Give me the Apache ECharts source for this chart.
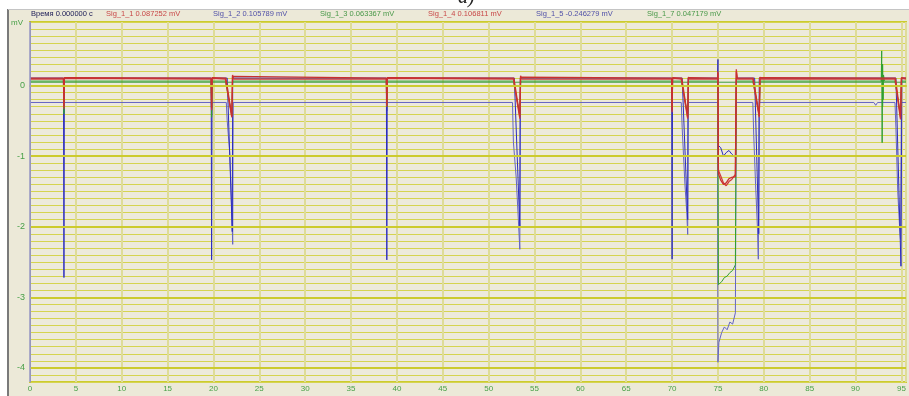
<!DOCTYPE html>
<html>
<head>
<meta charset="utf-8">
<script src="https://cdn.jsdelivr.net/npm/echarts@6/dist/echarts.min.js"></script>
<style>
  html, body { margin: 0; padding: 0; background: #fff; }
  #chart { width: 909px; height: 396px; }
</style>
</head>
<body>
<div id="chart"></div>
<script>
// header readouts at cursor (t = 0)
const headerLabels = [
  { text: 'Время 0.000000 с', x: 31, color: '#20205a' },
  { text: 'Sig_1_1 0.087252 mV', x: 106, color: '#c84848' },
  { text: 'Sig_1_2 0.105789 mV', x: 213, color: '#5050a8' },
  { text: 'Sig_1_3 0.063367 mV', x: 320, color: '#489848' },
  { text: 'Sig_1_4 0.106811 mV', x: 428, color: '#c84848' },
  { text: 'Sig_1_5 -0.246279 mV', x: 536, color: '#5050a8' },
  { text: 'Sig_1_7 0.047179 mV', x: 647, color: '#489848' }
];

const yIntegerLines = [0, -1, -2, -3, -4];

// [time, mV]
const sig11 = [
  [0, 0.09], [3.65, 0.09], [3.7, -0.33], [3.75, 0.1], [19.75, 0.09], [19.8, -0.35], [19.85, 0.1],
  [21.3, 0.09], [22.0, -0.45], [22.08, 0.15], [22.2, 0.09], [38.85, 0.09], [38.9, -0.3], [38.95, 0.1],
  [52.7, 0.09], [53.4, -0.47], [53.48, 0.14], [53.6, 0.09], [69.95, 0.09], [70.0, -0.38], [70.05, 0.1],
  [71.0, 0.09], [71.7, -0.47], [71.78, 0.12], [71.9, 0.09], [74.95, 0.09], [75.0, 0.2], [75.05, -1.2],
  [75.3, -1.28], [75.6, -1.38], [75.9, -1.42], [76.2, -1.36], [76.5, -1.33], [76.9, -1.26], [77.0, 0.23],
  [77.1, 0.09], [78.8, 0.09], [79.5, -0.45], [79.58, 0.12], [79.7, 0.09], [94.3, 0.09], [94.9, -0.48],
  [95.0, 0.1], [95.5, 0.09]
];

const sig14 = [
  [0, 0.105], [3.65, 0.105], [3.7, -0.3], [3.75, 0.11], [19.75, 0.105], [19.8, -0.32], [19.85, 0.11],
  [21.35, 0.105], [22.0, -0.43], [22.08, 0.13], [22.2, 0.105], [38.85, 0.105], [38.9, -0.28], [38.95, 0.11],
  [52.75, 0.105], [53.4, -0.44], [53.48, 0.12], [53.6, 0.105], [69.95, 0.105], [70.0, -0.35], [70.05, 0.11],
  [71.05, 0.105], [71.7, -0.45], [71.78, 0.11], [71.9, 0.105], [74.95, 0.105], [75.0, 0.18], [75.05, -1.25],
  [75.3, -1.34], [75.6, -1.4], [75.9, -1.38], [76.2, -1.32], [76.5, -1.3], [76.9, -1.29], [77.0, 0.2],
  [77.1, 0.105], [78.85, 0.105], [79.5, -0.43], [79.58, 0.11], [79.7, 0.105], [94.35, 0.105], [94.9, -0.45],
  [95.0, 0.11], [95.5, 0.105]
];

const sig12 = [
  [0, 0.105], [3.65, 0.105], [3.7, -2.72], [3.75, 0.105], [19.75, 0.105], [19.8, -2.47], [19.85, 0.105],
  [21.5, 0.105], [22.05, -2.07], [22.1, 0.105], [38.85, 0.105], [38.9, -2.47], [38.95, 0.105],
  [52.8, 0.105], [53.4, -2.0], [53.45, 0.105], [69.95, 0.105], [70.0, -2.46], [70.05, 0.105],
  [71.1, 0.105], [71.7, -1.9], [71.75, 0.105], [74.95, 0.105], [75.0, 0.37], [75.05, -0.85],
  [75.3, -0.88], [75.6, -1.0], [75.9, -0.95], [76.2, -0.92], [76.5, -0.97], [76.9, -1.02], [77.0, 0.105],
  [79.0, 0.105], [79.45, -2.1], [79.5, 0.105], [94.4, 0.105], [94.95, -2.56], [95.05, 0.105], [95.5, 0.105]
];

const sig15 = [
  [0, -0.24], [3.65, -0.24], [3.7, -0.38], [3.75, -0.24], [19.75, -0.24], [19.8, -0.42],
  [19.85, -0.24], [21.4, -0.24], [21.5, -0.5], [21.8, -1.0], [22.0, -1.8], [22.1, -2.25],
  [22.15, -0.24], [38.85, -0.24], [38.9, -0.36], [38.95, -0.24], [52.6, -0.24], [52.7, -0.8], [53.0, -1.3],
  [53.2, -1.8], [53.4, -2.32], [53.45, -0.24], [69.95, -0.24], [70.0, -0.36], [70.05, -0.24], [71.0, -0.24],
  [71.1, -0.6], [71.4, -1.4], [71.6, -1.8], [71.7, -2.11], [71.75, -0.24], [74.95, -0.24], [75.0, -3.92],
  [75.1, -3.64], [75.4, -3.5], [75.7, -3.42], [76.0, -3.46], [76.3, -3.35], [76.6, -3.38], [76.9, -3.22],
  [77.0, -0.24], [78.8, -0.24], [78.9, -0.7], [79.1, -1.4], [79.3, -2.0], [79.4, -2.46], [79.5, -0.24],
  [92.0, -0.24], [92.2, -0.28], [92.4, -0.24], [94.3, -0.24], [94.4, -0.6], [94.6, -1.5], [94.8, -2.0],
  [94.9, -2.18], [95.0, -0.24], [95.5, -0.24]
];

const sig13 = [
  [0, 0.063], [3.65, 0.063], [3.7, -0.4], [3.75, 0.063], [19.75, 0.063], [19.8, -0.45], [19.85, 0.063],
  [21.3, 0.063], [22.0, -0.42], [22.1, 0.063], [38.85, 0.063], [38.9, -0.3], [38.95, 0.063],
  [52.7, 0.063], [53.4, -0.42], [53.5, 0.063], [69.95, 0.063], [70.0, -0.3], [70.05, 0.063],
  [71.0, 0.063], [71.7, -0.42], [71.8, 0.063], [74.95, 0.063], [75.0, -0.6], [75.05, -2.82],
  [75.4, -2.78], [75.7, -2.72], [76.0, -2.7], [76.3, -2.65], [76.6, -2.62], [76.9, -2.54], [77.0, 0.063],
  [78.8, 0.063], [79.5, -0.42], [79.6, 0.063], [92.8, 0.063], [92.85, 0.49], [92.9, -0.81], [92.95, 0.3],
  [93.0, -0.2], [93.05, 0.15], [93.15, 0.063], [94.3, 0.063], [94.9, -0.42], [95.0, 0.063], [95.5, 0.063]
];

const sig17 = [
  [0, 0.047], [3.65, 0.047], [3.7, -0.2], [3.75, 0.047], [19.75, 0.047], [19.8, -0.25], [19.85, 0.047],
  [38.85, 0.047], [38.9, -0.15], [38.95, 0.047], [69.95, 0.047], [70.0, -0.15], [70.05, 0.047],
  [92.8, 0.047], [92.9, 0.3], [92.95, -0.3], [93.0, 0.1], [93.1, 0.047], [95.5, 0.047]
];

const chart = echarts.init(document.getElementById('chart'));

const line = (name, data, color, width) => ({
  name,
  type: 'line',
  data,
  symbol: 'none',
  lineStyle: { color, width },
  animation: false,
  z: 3
});

const gridLinesSeries = {
  type: 'line',
  data: [],
  markLine: {
    silent: true,
    symbol: 'none',
    animation: false,
    label: { show: false },
    data: yIntegerLines.map(v => ({ yAxis: v, lineStyle: { color: '#cccb2e', width: 2, type: 'solid' } }))
      .concat([{ xAxis: 0, lineStyle: { color: '#9a9ad8', width: 1.5, type: 'solid' } }])
  },
  z: 2
};

const option = {
  backgroundColor: 'transparent',
  animation: false,
  graphic: [
    { type: 'rect', shape: { x: 8, y: 9, width: 901, height: 387 }, style: { fill: '#ece9d8' }, z: -10 },
    { type: 'line', shape: { x1: 8, y1: 9, x2: 8, y2: 396 }, style: { stroke: '#7a7a7a', lineWidth: 2 }, z: -9 },
    { type: 'line', shape: { x1: 8, y1: 9.5, x2: 909, y2: 9.5 }, style: { stroke: '#c4c4c4', lineWidth: 1 }, z: -9 },
    { type: 'text', x: 458, y: 8, style: { text: 'а)', font: 'italic 20px "Liberation Serif"', fill: '#222', verticalAlign: 'bottom' } },
    { type: 'text', x: 11, y: 19, style: { text: 'mV', font: '8px "Liberation Sans"', fill: '#48a048' } }
  ].concat(headerLabels.map(h => ({
    type: 'text', x: h.x, y: 10, style: { text: h.text, font: '7.5px "Liberation Sans"', fill: h.color }
  }))),
  grid: {
    left: 30,
    right: 0,
    top: 22,
    bottom: 14,
    show: true,
    backgroundColor: '#edeadc',
    borderColor: '#cccb2e',
    borderWidth: 2
  },
  xAxis: {
    type: 'value',
    min: 0,
    max: 95.5,
    interval: 5,
    axisLine: { lineStyle: { color: '#cccb2e', width: 2 } },
    axisTick: { show: false },
    axisLabel: {
      color: '#48a048',
      fontSize: 8,
      fontFamily: 'Liberation Sans',
      margin: 3,
      formatter: v => (Math.abs(v % 5) < 1e-6 ? String(v) : '')
    },
    splitLine: { lineStyle: { color: '#dedc98', width: 2 } }
  },
  yAxis: {
    type: 'value',
    min: -4.2,
    max: 0.9,
    interval: 0.1,
    axisLine: { show: true, lineStyle: { color: '#8a8a68', width: 1 } },
    axisTick: { show: false },
    axisLabel: {
      color: '#48a048',
      fontSize: 9,
      fontFamily: 'Liberation Sans',
      margin: 5,
      formatter: v => (Math.abs(v - Math.round(v)) < 1e-6 ? String(Math.round(v)) : '')
    },
    splitLine: { lineStyle: { color: '#d5d450', width: 1 } }
  },
  series: [
    gridLinesSeries,
    line('Sig_1_5', sig15, '#6464c4', 1),
    line('Sig_1_2', sig12, '#2c2cc0', 1),
    line('Sig_1_7', sig17, '#3c9c3c', 1),
    line('Sig_1_3', sig13, '#30a030', 1),
    line('Sig_1_1', sig11, '#d03a3a', 1.3),
    line('Sig_1_4', sig14, '#c83030', 1.3)
  ]
};

chart.setOption(option);
</script>
</body>
</html>
